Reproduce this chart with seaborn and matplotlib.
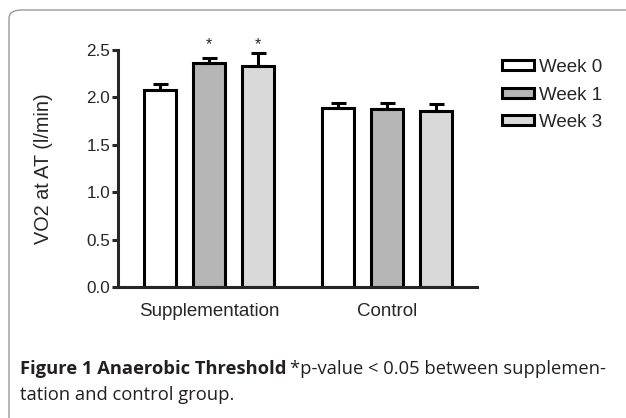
import pandas as pd
import seaborn as sns
import matplotlib.pyplot as plt
from matplotlib.patches import FancyBboxPatch

# values (l/min), mean and upper error
groups = ["Supplementation", "Control"]
weeks = ["Week 0", "Week 1", "Week 3"]
mean_supp = [2.08, 2.365, 2.33]
mean_ctrl = [1.885, 1.875, 1.86]
err_supp = [0.06, 0.055, 0.14]
err_ctrl = [0.055, 0.07, 0.07]
# significance marks (group, week)
stars = [("Supplementation", "Week 1"), ("Supplementation", "Week 3")]

bar_colors = ["#ffffff", "#b6b6b6", "#d9d9d9"]

rows = []
for g, means, errs in [(groups[0], mean_supp, err_supp), (groups[1], mean_ctrl, err_ctrl)]:
    for w, m, e in zip(weeks, means, errs):
        rows.append({"group": g, "week": w, "vo2": m, "err": e})
df = pd.DataFrame(rows)

sns.set_style("white")
plt.rcParams["font.family"] = ["Liberation Sans", "DejaVu Sans"]

fig = plt.figure(figsize=(6.26, 4.18), dpi=100)
W, H = 626, 418

# rounded frame around the figure panel
frame = FancyBboxPatch((9 / W, -0.05), 1.1, 1 - 10 / H + 0.05,
                       boxstyle="round,pad=0,rounding_size=0.02",
                       transform=fig.transFigure, facecolor="none",
                       edgecolor="#9a9a9a", linewidth=1.0, zorder=-1)
fig.patches.append(frame)

ax = fig.add_axes([118 / W, 1 - 287 / H, 359 / W, 237 / H])
ax.set_facecolor("none")

sns.barplot(data=df, x="group", y="vo2", hue="week", order=groups,
            hue_order=weeks, palette=bar_colors, edgecolor="black",
            linewidth=2.2, width=0.825, gap=0.36, errorbar=None,
            saturation=1, ax=ax)

# error bars (upper only) from the bar geometry
for cont, w in zip(ax.containers, weeks):
    sub = df[df.week == w].set_index("group").loc[groups]
    xs = [p.get_x() + p.get_width() / 2 for p in cont.patches]
    ax.errorbar(xs, sub["vo2"], yerr=[[0] * len(xs), sub["err"]], fmt="none",
                ecolor="black", elinewidth=2.2, capsize=5.4, capthick=2.2,
                zorder=1)
    for (g, sw), x in zip([(g, w) for g in groups], xs):
        if (g, sw) in stars:
            ax.text(x, 2.56, "*", ha="center", va="center", fontsize=11.5,
                    clip_on=False)

ax.set_ylim(0, 2.5)
ax.set_xlim(-0.511, 1.506)
ax.set_yticks([0, 0.5, 1.0, 1.5, 2.0, 2.5])
ax.set_yticklabels(["0.0", "0.5", "1.0", "1.5", "2.0", "2.5"])
ax.tick_params(axis="y", direction="out", length=4.5, width=2.2, pad=1,
               labelsize=12.3, left=True)
ax.tick_params(axis="x", length=0, pad=11.5, labelsize=13.5)
sns.despine(ax=ax)
for s in ["left", "bottom"]:
    ax.spines[s].set_linewidth(2.2)
ax.set_xlabel("")
ax.set_ylabel("VO2 at AT (l/min)", fontsize=14.3, va="center")
ax.yaxis.set_label_coords((44 - 118) / 359, 0.5)

handles, labels = ax.get_legend_handles_labels()
ax.legend(handles, labels, loc="upper left",
          bbox_to_anchor=(502 / W, 1 - 59 / H),
          bbox_transform=fig.transFigure, frameon=False, fontsize=13.5,
          handlelength=1.7, handleheight=0.42, handletextpad=0.25,
          labelspacing=0.56, borderpad=0, borderaxespad=0)

# caption
cap_font = ["Open Sans", "DejaVu Sans"]
cap_size = 13.2
t1 = fig.text(20 / W, 1 - 374 / H, "Figure 1 Anaerobic Threshold",
              fontsize=cap_size, fontweight="bold", family=cap_font,
              va="baseline", color="#231f20")
fig.canvas.draw()
r = fig.canvas.get_renderer()
bb = t1.get_window_extent(r)
fig.text(bb.x1 / W + 4 / W, 1 - 374 / H,
         "*p-value < 0.05 between supplemen-", fontsize=cap_size,
         family=cap_font, va="baseline", color="#231f20")
fig.text(20 / W, 1 - 400 / H, "tation and control group.", fontsize=cap_size,
         family=cap_font, va="baseline", color="#231f20")

fig.savefig("out.png", dpi=100)
